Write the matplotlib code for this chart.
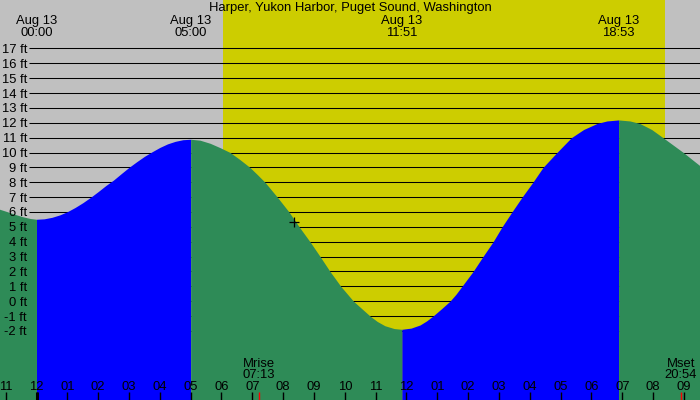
import numpy as np
import matplotlib
matplotlib.use("Agg")
import matplotlib.pyplot as plt
from matplotlib.transforms import blended_transform_factory, IdentityTransform, offset_copy

# ---------------- data ----------------
title = "Harper, Yukon Harbor, Puget Sound, Washington"
date_label = "Aug 13"

# tide curve (hours after midnight Aug 13, feet)
tide_hours = [-1.25, -0.95, -0.70, -0.45, -0.20, 0.00,
              0.25, 0.50, 0.75, 1.00, 1.25, 1.50, 1.75, 2.00, 2.25, 2.50,
              2.75, 3.00, 3.25, 3.50, 3.75, 4.00, 4.25, 4.50, 4.75, 5.00,
              5.30, 5.63, 5.95, 6.28, 6.60, 6.92, 7.17, 7.41, 7.61, 7.81,
              8.00, 8.19, 8.52, 8.87, 9.20, 9.52, 9.87, 10.28, 10.55, 10.82,
              11.05, 11.30, 11.60, 11.85,
              12.15, 12.44, 12.65, 12.86, 13.13, 13.41, 13.60, 13.80, 14.16, 14.48,
              14.81, 15.10, 15.42, 15.75, 16.10, 16.43, 16.88, 17.35, 17.75, 18.18,
              18.50, 18.88,
              19.25, 19.57, 19.95, 20.32, 20.65, 20.98, 21.30, 21.60]
tide_feet = [6.22, 6.02, 5.84, 5.68, 5.56, 5.51,
             5.54, 5.64, 5.80, 6.02, 6.30, 6.62, 6.98, 7.37, 7.78, 8.15,
             8.58, 9.00, 9.38, 9.74, 10.05, 10.34, 10.58, 10.75, 10.86, 10.89,
             10.83, 10.62, 10.33, 10.00, 9.52, 9.00, 8.50, 8.00, 7.50, 7.00,
             6.50, 6.00, 5.00, 4.00, 3.00, 2.00, 1.00, 0.00, -0.50, -1.00,
             -1.36, -1.65, -1.84, -1.89,
             -1.81, -1.60, -1.33, -1.00, -0.52, 0.00, 0.45, 1.00, 2.00, 3.00,
             4.00, 5.00, 6.00, 7.00, 8.00, 9.00, 10.00, 11.00, 11.55, 11.95,
             12.12, 12.19,
             12.12, 11.95, 11.55, 11.00, 10.50, 10.00, 9.47, 8.98]

extreme_hours = [0.0, 5.0, 11.85, 18.883]
extreme_labels = ["00:00", "05:00", "11:51", "18:53"]

sunrise_hour = 6.05
sunset_hour = 20.39

moon_hours = [7 + 13 / 60, 20 + 54 / 60]
moon_names = ["Mrise", "Mset"]
moon_times = ["07:13", "20:54"]

now_hour = 8.36
now_feet = 5.35

levels = [-2, -1, 0, 1, 2, 3, 4, 5, 6, 7, 8, 9, 10, 11, 12, 13, 14, 15, 16, 17]
hour_ticks = list(range(-1, 22))
hour_labels = ["11", "12", "01", "02", "03", "04", "05", "06", "07", "08", "09", "10",
               "11", "12", "01", "02", "03", "04", "05", "06", "07", "08", "09"]

# ---------------- style ----------------
GRAY = "#c0c0c0"
YELLOW = "#cdcd00"
GREEN = "#2e8b57"
BLUE = "#0000ff"
plt.rcParams["font.family"] = ["Liberation Sans", "DejaVu Sans"]
FS = 9.4
TZ = 10

W, H = 700, 400
X0, PX_H = 36.5, 30.83      # pixel of midnight, pixels per hour
Y0, PX_FT = 301.2, 14.87    # pixel of 0 ft, pixels per foot

fig = plt.figure(figsize=(W / 100, H / 100), dpi=100, facecolor=GRAY)
ax = fig.add_axes([0, 0, 1, 1])
ax.set_facecolor(GRAY)
ax.set_xlim(-X0 / PX_H, (W - X0) / PX_H)
ax.set_ylim((Y0 - H) / PX_FT, Y0 / PX_FT)
ax.axis("off")

# daylight
ax.axvspan(sunrise_hour, sunset_hour, color=YELLOW, lw=0, zorder=1)

# grid lines
ax.hlines(levels, (29 - X0) / PX_H, (W - X0) / PX_H, colors="black", lw=0.75, zorder=2)

# tide fill, blue rising / green falling
t = np.array(tide_hours)
f = np.array(tide_feet)
d = np.diff(f)
turns = [i for i in range(1, len(f) - 1) if d[i - 1] * d[i] < 0]
bounds = [0] + turns + [len(f) - 1]
bottom = (Y0 - H) / PX_FT - 1
for a, b in zip(bounds[:-1], bounds[1:]):
    col = BLUE if f[b] > f[a] else GREEN
    ax.fill_between(t[a:b + 1], f[a:b + 1], bottom, color=col, lw=0, zorder=3)

# current time marker
ax.plot([now_hour], [now_feet], marker="+", color="black", ms=6.5, mew=0.9, zorder=5)

ident = IdentityTransform()
xdata_ypix = blended_transform_factory(ax.transData, ident)
xpix_ydata = blended_transform_factory(ident, ax.transData)

# hour ticks
ax.vlines(hour_ticks, 0, 8, colors="black", lw=1.0, transform=xdata_ypix, zorder=6)
ax.vlines([0], 0, 8, colors="black", lw=2.2, transform=xdata_ypix, zorder=6)
ax.vlines(moon_hours, 0, 8, colors="red", lw=1.0, transform=xdata_ypix, zorder=7)

txt = dict(fontsize=FS, color="black", zorder=TZ, va="baseline")

# title
fig.text(350, H - 11, title, transform=ident, ha="center", **txt)

# extreme labels
for hx, lab in zip(extreme_hours, extreme_labels):
    fig.text(hx, H - 24, date_label, transform=xdata_ypix, ha="center", **txt)
    fig.text(hx, H - 36, lab, transform=xdata_ypix, ha="center", **txt)

# y labels
ylab_tr = offset_copy(xpix_ydata, fig=fig, y=-4.5, units="dots")
for lv in levels:
    fig.text(27, lv, f"{lv} ft", transform=ylab_tr, ha="right", **txt)

# hour labels
for hx, lab in zip(hour_ticks, hour_labels):
    fig.text(hx, 10, lab, transform=xdata_ypix, ha="center", **txt)

# moon rise / set labels
for hx, nm, tm in zip(moon_hours, moon_names, moon_times):
    fig.text(hx, H - 366.7, nm, transform=xdata_ypix, ha="center", **txt)
    fig.text(hx, H - 378.3, tm, transform=xdata_ypix, ha="center", **txt)

fig.savefig("out.png", dpi=100, facecolor=GRAY)
